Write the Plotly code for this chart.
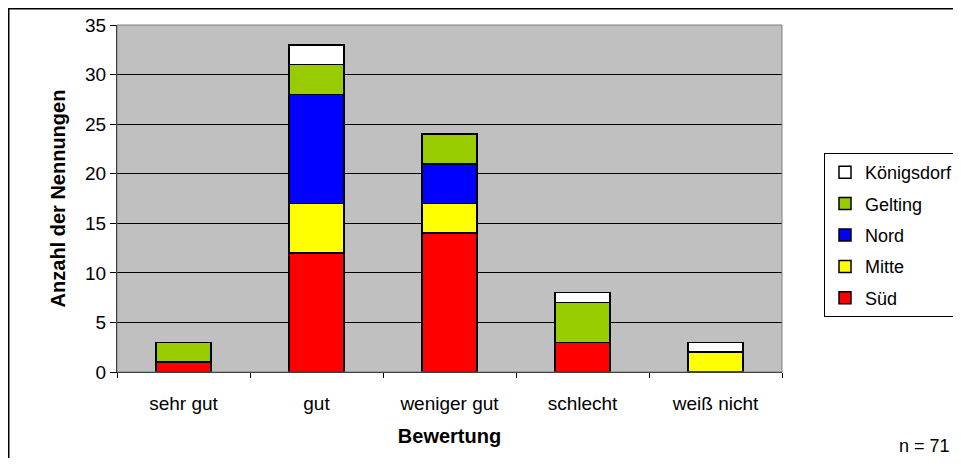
import plotly.graph_objects as go

categories = ["sehr gut", "gut", "weniger gut", "schlecht", "weiß nicht"]
sued = [1, 12, 14, 3, None]
mitte = [None, 5, 3, None, 2]
nord = [None, 11, 4, None, None]
gelting = [2, 3, 3, 4, None]
koenigsdorf = [None, 2, None, 1, 1]

series = [
    ("Süd", sued, "#FF0000", 5),
    ("Mitte", mitte, "#FFFF00", 4),
    ("Nord", nord, "#0000FF", 3),
    ("Gelting", gelting, "#99CC00", 2),
    ("Königsdorf", koenigsdorf, "#FFFFFF", 1),
]

FONT = "Liberation Sans, Arial, sans-serif"

fig = go.Figure()
for name, vals, color, rank in series:
    fig.add_trace(go.Bar(
        x=categories, y=vals, name=name, legendgroup=name, legendrank=rank,
        marker=dict(color=color, line=dict(color="black", width=1.5)),
    ))

# the page body adds an 8px margin; the figure is sized so the page does not overflow
W, H = 945, 450
L, T = 109, 17
pw, ph = 665, 347
R, B = W - L - pw, H - T - ph

fig.update_layout(
    width=W, height=H,
    margin=dict(l=L, r=R, t=T, b=B, pad=0, autoexpand=False),
    barmode="stack",
    bargap=0.59,
    plot_bgcolor="#C0C0C0",
    paper_bgcolor="white",
    font=dict(family=FONT, size=19, color="black"),
    showlegend=True,
    legend=dict(
        xref="container", yref="container",
        x=816 / W, y=1 - 145 / H, xanchor="left", yanchor="top",
        traceorder="grouped", tracegroupgap=5,
        bordercolor="black", borderwidth=1, bgcolor="white",
        font=dict(family=FONT, size=18),
        itemwidth=30,
    ),
    xaxis=dict(
        type="category", automargin=False,
        showline=True, linecolor="black", linewidth=1,
        ticks="outside", tickson="boundaries", ticklen=5, tickcolor="black",
        ticklabelstandoff=14,
        showgrid=False,
        title=dict(text="<b>Bewertung</b>", font=dict(size=20), standoff=16),
        tickfont=dict(size=19),
    ),
    yaxis=dict(
        range=[0, 35], dtick=5, tick0=0, automargin=False,
        showline=True, linecolor="black", linewidth=1,
        ticks="outside", ticklen=6, tickcolor="black",
        showgrid=True, gridcolor="black", gridwidth=1,
        zeroline=False,
        title=dict(text="<b>Anzahl der Nennungen</b>", font=dict(size=20), standoff=14),
        tickfont=dict(size=19),
    ),
)

# plot area border (gray)
fig.add_shape(type="rect", xref="paper", yref="paper", x0=0, y0=0, x1=1, y1=1,
              line=dict(color="#808080", width=1), layer="above")
# outer chart border
fig.add_shape(type="rect", xref="paper", yref="paper",
              x0=(0.75 - L) / pw, y0=-0.5, x1=1.5, y1=(T + ph - 0.75) / ph,
              line=dict(color="black", width=1.5), layer="above")

fig.add_annotation(text="n = 71", xref="paper", yref="paper",
                   x=(944 - L) / pw, y=(T + ph - 438) / ph,
                   xanchor="right", yanchor="middle", showarrow=False,
                   font=dict(family=FONT, size=18))

fig.write_html("out.html")
